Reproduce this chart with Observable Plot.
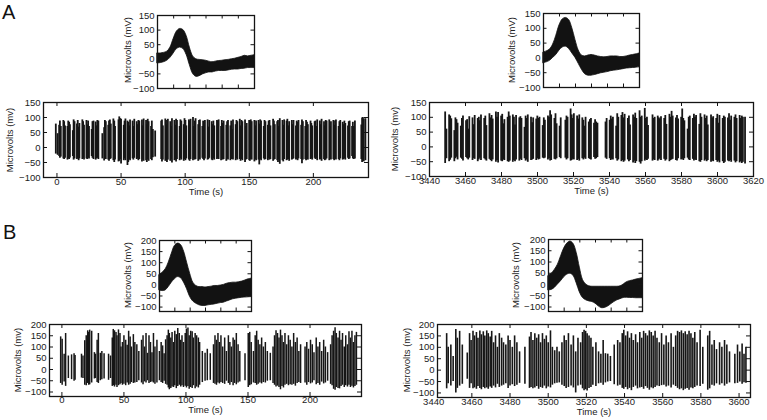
<!DOCTYPE html>
<html>
<head>
<meta charset="utf-8">
<script src="https://cdn.jsdelivr.net/npm/d3@7"></script>
<script src="https://cdn.jsdelivr.net/npm/@observablehq/plot@0.6"></script>
<style>
  html, body { margin: 0; padding: 0; background: #fff; }
  #fig { position: relative; width: 767px; height: 420px; overflow: hidden; background: #fff; font-family: "Liberation Sans", Arial, sans-serif; }
  .letter { position: absolute; font-size: 20px; color: #111; line-height: 1; }
  .ylab { position: absolute; font-size: 9.5px; line-height: 1; color: #222; white-space: nowrap; transform: translate(-50%, -50%) rotate(-90deg); }
  #fig svg { position: absolute; overflow: visible; }
  #fig svg text { font-family: "Liberation Sans", Arial, sans-serif; }
</style>
</head>
<body>
<div id="fig">
  <div class="letter" style="left:2px; top:2px;">A</div>
  <div class="letter" style="left:3px; top:222px;">B</div>
</div>
<script>
// ---------- tick labels ----------
const yTicksA = [-100, -50, 0, 50, 100, 150];
const yTicksB = [-100, -50, 0, 50, 100, 150, 200];
const xTicksEarly = [0, 50, 100, 150, 200];
const xTicksLateA = [3440, 3460, 3480, 3500, 3520, 3540, 3560, 3580, 3600, 3620];
const xTicksLateB = [3440, 3460, 3480, 3500, 3520, 3540, 3560, 3580, 3600];
const waveTicks = [5, 10, 15, 20, 25];

// ---------- waveform envelopes (samples 0..30) ----------
const waveA1High = [20, 20, 22, 26, 40, 70, 95, 104, 100, 80, 40, 10, 0, -2, -3, -5, -8, -10, -8, -6, -5, -3, -2, 0, 2, 5, 8, 12, 10, 12, 14];
const waveA1Low  = [-14, -13, -10, -5, 5, 20, 35, 40, 35, 15, -20, -50, -60, -58, -52, -48, -45, -45, -42, -40, -40, -40, -38, -36, -35, -35, -33, -32, -30, -30, -30];
const waveA2High = [18, 22, 28, 45, 75, 110, 130, 135, 128, 100, 60, 25, 8, 5, 8, 10, 8, 5, 3, 2, 3, 5, 5, 5, 3, 3, 5, 8, 10, 12, 15];
const waveA2Low  = [-18, -15, -10, 0, 10, 25, 35, 38, 30, 15, 0, -20, -40, -55, -60, -60, -58, -55, -52, -50, -48, -45, -43, -42, -40, -38, -36, -35, -34, -33, -32];
const waveB1High = [45, 55, 70, 100, 140, 175, 186, 180, 150, 100, 50, 10, -5, -10, -10, -12, -10, -8, -5, -5, -3, 0, 5, 8, 10, 10, 12, 15, 20, 25, 28];
const waveB1Low  = [-25, -28, -25, -10, 10, 25, 35, 30, 10, -20, -55, -75, -85, -92, -95, -95, -92, -90, -88, -85, -82, -80, -75, -70, -65, -62, -60, -58, -57, -56, -55];
const waveB2High = [38, 48, 65, 88, 125, 160, 182, 191, 180, 140, 75, 20, 0, -8, -10, -10, -10, -10, -10, -10, -10, -10, -10, -8, 0, 10, 15, 18, 22, 25, 28];
const waveB2Low  = [-26, -24, -15, 0, 15, 32, 44, 48, 38, 5, -35, -60, -70, -75, -78, -85, -97, -105, -104, -98, -88, -78, -70, -65, -60, -59, -60, -60, -61, -61, -61];

// ---------- spike trains: [time (s), max (µV), min (µV)] ----------
const spikesA1 = [
[-0.9,78,-22],[0.5,46,-26],
[1.7,74,-30],[2.3,88,-36],[3.0,70,-32],
[5.0,90,-38],[5.6,86,-40],[6.3,72,-36],
[8.2,70,-42],[8.8,88,-38],[9.5,84,-40],[10.1,76,-35],
[12.4,56,-30],[13.0,92,-42],[13.7,86,-38],
[15.6,78,-40],[16.2,90,-36],[16.9,68,-44],[17.5,80,-38],
[19.8,92,-40],[20.4,86,-36],[21.1,74,-42],
[23.0,90,-38],[23.6,75,-40],[24.3,88,-35],[25.0,70,-38],
[27.1,60,-30],[27.7,86,-36],[28.5,88,-40],
[30.2,85,-42],[30.8,72,-38],[31.5,90,-36],[32.3,88,-40],
[35.4,46,-38],
[36.8,66,-45],[37.4,90,-38],[38.1,86,-40],
[40.0,74,-42],[40.6,88,-46],[41.3,92,-40],[42.0,78,-38],
[44.0,95,-44],[44.7,88,-50],[45.3,70,-42],
[48.0,92,-48],[48.6,102,-46],[49.3,96,-40],[50.0,94,-55],
[52.1,74,-44],[52.7,88,-38],[53.4,95,-44],
[55.0,88,-60],[55.6,84,-50],[56.3,72,-40],[57.0,92,-44],
[59.0,88,-38],[59.6,70,-42],[60.3,94,-36],
[62.2,86,-40],[62.8,76,-38],[63.5,90,-44],[64.2,88,-40],
[66.3,92,-48],[66.9,72,-42],[67.6,95,-46],
[69.5,90,-44],[70.1,76,-50],[70.8,94,-42],[71.5,86,-46],
[73.4,70,-40],[74.0,88,-44],[74.8,60,-34],
[76.6,55,-32],
[81.3,88,-40],[81.9,92,-48],[82.6,72,-42],
[84.5,95,-46],[85.1,90,-44],[85.8,76,-50],[86.5,94,-42],
[88.4,86,-46],[89.0,70,-40],[89.7,96,-52],
[91.6,90,-44],[92.2,74,-42],[92.9,94,-48],[93.6,90,-40],
[95.7,70,-44],[96.3,92,-38],[97.0,88,-42],
[98.9,76,-46],[99.5,96,-40],[100.2,90,-44],[100.9,72,-38],
[102.9,92,-42],[103.5,88,-46],[104.2,94,-40],
[106.1,100,-44],[106.7,70,-38],[107.4,88,-42],[108.1,96,-40],
[110.2,76,-46],[110.8,90,-38],[111.5,92,-42],
[113.4,70,-36],[114.0,88,-40],[114.7,74,-44],[115.4,90,-38],
[117.5,92,-42],[118.1,68,-40],[118.8,90,-36],
[120.7,86,-42],[121.3,76,-44],[122.0,88,-38],[122.7,72,-42],
[124.8,90,-40],[125.4,88,-36],[126.1,92,-40],
[128.0,70,-44],[128.6,90,-38],[129.3,80,-42],[130.0,88,-40],
[132.1,74,-46],[132.7,86,-38],[133.4,90,-42],
[135.3,72,-44],[135.9,88,-40],[136.6,60,-40],[137.3,92,-42],
[139.4,76,-44],[140.0,90,-38],[140.7,86,-42],
[142.6,94,-40],[143.2,72,-46],[143.9,90,-40],[144.6,86,-44],
[146.7,92,-50],[147.3,70,-42],[148.0,80,-40],
[149.9,90,-44],[150.5,76,-46],[151.2,92,-40],[151.9,86,-42],
[154.0,90,-48],[154.6,72,-40],[155.3,88,-44],
[157.2,90,-42],[157.8,78,-58],[158.5,92,-40],[159.2,88,-44],
[161.3,70,-38],[161.9,90,-42],[162.6,86,-40],
[164.5,74,-44],[165.1,88,-38],[165.8,90,-42],[166.5,72,-40],
[168.6,94,-46],[169.2,88,-42],[169.9,76,-40],
[171.8,86,-44],[172.4,90,-50],[173.1,70,-42],[173.8,96,-56],
[175.9,90,-44],[176.5,74,-48],[177.2,92,-40],
[179.1,88,-44],[179.7,94,-42],[180.4,72,-40],[181.1,86,-46],
[183.2,90,-42],[183.8,76,-40],[184.5,90,-38],
[186.4,72,-42],[187.0,88,-40],[187.7,84,-44],[188.4,90,-38],
[190.5,74,-40],[191.1,92,-54],[191.8,86,-42],
[193.7,70,-40],[194.3,90,-44],[195.0,84,-38],[195.7,76,-42],
[197.8,88,-40],[198.4,80,-38],[199.1,72,-42],
[201.0,86,-36],[201.6,88,-40],[202.3,70,-38],[203.0,92,-44],
[205.1,88,-42],[205.7,76,-40],[206.4,94,-46],
[208.3,86,-40],[208.9,72,-44],[209.6,90,-42],[210.3,88,-38],
[212.4,92,-44],[213.0,70,-40],[213.7,86,-42],
[215.6,90,-40],[216.2,74,-44],[216.9,88,-38],[217.6,92,-42],
[219.7,70,-40],[220.3,86,-44],[221.0,90,-38],
[222.9,84,-42],[223.5,76,-40],[224.2,88,-38],[224.9,80,-42],
[227.0,72,-36],[227.6,86,-40],[228.3,88,-38],
[230.2,70,-30],[230.8,84,-38],[231.5,70,-40],[232.4,88,-38],
[237.4,75,-40],[238.0,98,-50],[238.6,100,-45],[239.3,95,-48],[240.6,96,-44]
];

const spikesA2 = [
[3448.7,118,-56],[3449.4,60,-40],
[3450.9,108,-50],[3451.5,104,-45],[3452.1,95,-38],
[3453.8,55,-50],[3454.4,98,-40],[3455.0,92,-35],[3455.6,80,-44],
[3457.4,70,-38],[3458.0,96,-42],[3458.6,104,-48],
[3460.3,88,-36],[3460.9,92,-40],[3461.5,60,-44],[3462.1,102,-38],
[3463.9,98,-46],[3464.5,75,-40],[3465.1,106,-42],
[3466.8,96,-50],[3467.4,100,-44],[3468.0,88,-38],[3468.6,108,-46],
[3470.4,96,-40],[3471.0,104,-44],[3471.6,72,-48],
[3473.3,112,-42],[3473.9,98,-46],[3474.5,106,-50],[3475.1,94,-44],
[3476.9,118,-52],[3477.5,100,-46],[3478.1,116,-54],
[3479.8,104,-48],[3480.4,110,-50],[3481.0,78,-44],[3481.6,92,-46],
[3483.4,100,-50],[3484.0,118,-52],[3484.6,104,-48],
[3486.3,108,-52],[3486.9,100,-46],[3487.5,74,-50],[3488.1,106,-44],
[3489.9,98,-48],[3490.5,102,-42],[3491.1,96,-46],
[3492.8,66,-40],[3493.4,104,-48],[3494.0,96,-44],[3494.6,108,-52],
[3496.4,100,-46],[3497.0,82,-44],[3497.6,98,-42],
[3499.3,94,-46],[3499.9,104,-40],[3500.5,96,-44],[3501.1,100,-42],
[3502.9,72,-38],[3503.5,98,-40],[3504.1,90,-38],
[3505.8,104,-44],[3506.4,100,-40],[3507.0,122,-48],[3507.6,108,-46],
[3509.4,96,-42],[3510.0,112,-44],[3510.6,78,-40],
[3512.3,70,-36],[3512.9,98,-40],
[3515.5,90,-38],[3516.1,104,-44],[3516.7,100,-40],
[3518.4,128,-48],[3519.0,108,-46],[3519.6,96,-42],[3520.2,112,-44],
[3522.0,104,-46],[3522.6,94,-42],[3523.2,108,-48],
[3524.9,98,-40],[3525.5,90,-44],[3526.1,70,-38],[3526.7,100,-42],
[3528.5,84,-40],[3529.1,92,-42],[3529.7,96,-44],
[3531.4,80,-36],[3532.0,92,-42],[3532.6,84,-40],[3533.3,80,-36],
[3537.8,84,-38],[3538.4,96,-42],
[3540.1,90,-40],[3540.7,104,-46],[3541.3,94,-42],[3541.9,100,-44],
[3543.7,70,-40],[3544.3,112,-48],[3544.9,100,-44],
[3546.6,106,-50],[3547.2,116,-46],[3547.8,98,-52],[3548.4,110,-48],
[3550.2,96,-44],[3550.8,104,-50],[3551.4,74,-46],
[3553.1,108,-54],[3553.7,100,-48],[3554.3,114,-56],[3554.9,96,-50],
[3556.7,122,-52],[3557.3,100,-58],[3557.9,104,-50],
[3559.6,130,-48],[3560.2,96,-44],[3560.8,100,-46],[3561.4,72,-42],
[3563.9,108,-48],[3564.5,96,-44],[3565.1,100,-46],
[3566.8,104,-48],[3567.4,98,-44],[3568.0,94,-40],[3568.6,102,-46],
[3570.4,96,-42],[3571.0,106,-48],[3571.6,76,-44],
[3573.3,110,-50],[3573.9,100,-46],[3574.5,120,-44],[3575.1,104,-42],
[3576.9,98,-46],[3577.5,106,-48],[3578.1,94,-40],
[3579.8,100,-44],[3580.4,128,-42],[3581.0,96,-46],[3581.6,88,-40],
[3583.4,60,-38],[3584.0,100,-44],[3584.6,104,-46],
[3586.3,96,-42],[3586.9,110,-48],[3587.5,100,-44],[3588.1,106,-46],
[3589.9,76,-50],[3590.5,112,-52],[3591.1,100,-46],
[3592.8,108,-48],[3593.4,96,-44],[3594.0,104,-50],[3594.6,74,-46],
[3596.4,108,-52],[3597.0,98,-48],[3597.6,102,-50],
[3599.3,96,-46],[3599.9,110,-52],[3600.5,80,-48],[3601.1,106,-54],
[3602.9,96,-50],[3603.5,104,-56],[3604.1,100,-52],
[3605.8,98,-48],[3606.4,112,-50],[3607.0,90,-46],[3607.6,104,-52],
[3609.4,100,-48],[3610.0,108,-54],[3610.6,96,-50],
[3612.3,106,-54],[3612.9,96,-50],[3613.5,104,-56],[3614.1,100,-52],[3615.3,100,-58]
];

const spikesB1 = [
[-1.0,145,-62],[0.2,135,-70],[1.8,68,-55],[3.0,160,-75],[5.2,60,-40],[7.8,65,-45],[9.8,70,-52],[10.6,62,-48],[15.8,68,-38],[17.0,60,-40],
[18.4,128,-70],[19.6,150,-72],[20.8,172,-62],[21.6,165,-70],[22.4,175,-68],[24.0,170,-60],[26.2,75,-42],[27.0,68,-40],[28.4,130,-58],[29.4,160,-62],
[31.0,72,-50],[32.2,80,-45],[34.0,70,-42],[37.6,68,-48],[39.2,60,-40],[40.6,140,-75],[41.4,178,-72],[42.4,172,-78],[43.6,165,-70],[44.4,150,-80],
[45.6,176,-72],[46.8,160,-68],[47.6,100,-62],[48.8,120,-70],[50.0,150,-66],[51.4,130,-72],[52.6,108,-60],[53.8,170,-70],[55.0,145,-65],[56.0,100,-58],
[57.6,155,-62],[58.8,120,-60],[60.4,110,-58],[62.0,80,-50],[64.2,130,-60],[65.4,150,-68],[66.6,100,-55],[67.8,160,-60],[69.0,72,-50],[70.2,150,-62],
[71.4,120,-58],[72.6,75,-55],[73.8,160,-60],[75.0,100,-65],[76.6,130,-60],[78.6,80,-50],[80.0,120,-58],[81.2,105,-62],[82.4,70,-52],[83.6,132,-66],
[84.8,150,-70],[85.8,175,-82],[86.6,160,-90],[87.8,140,-84],[88.8,165,-78],[90.0,120,-80],[91.0,170,-72],[92.2,155,-85],[93.4,182,-76],[94.6,160,-70],
[95.8,130,-78],[96.8,150,-72],[98.0,120,-80],[99.4,160,-74],[100.4,180,-82],[101.6,185,-76],[102.6,150,-88],[103.8,170,-80],[105.0,168,-84],[106.0,140,-72],
[107.4,160,-86],[108.6,150,-78],[110.0,140,-82],[111.0,120,-70],[113.2,80,-58],[115.4,72,-52],[117.2,90,-50],[119.6,70,-48],[122.2,110,-62],[123.4,150,-66],
[124.6,130,-70],[125.8,160,-60],[127.0,120,-64],[128.2,150,-58],[129.6,100,-62],[131.2,140,-66],[132.6,80,-52],[134.2,150,-62],[135.4,120,-70],[136.6,100,-58],
[138.0,140,-72],[139.2,130,-62],[140.6,160,-68],[142.0,110,-60],[143.4,80,-55],[147.6,70,-50],[150.2,160,-80],[151.4,165,-72],[152.6,120,-68],[154.4,80,-60],
[155.8,150,-62],[157.0,170,-70],[158.2,130,-66],[159.6,110,-60],[161.0,140,-64],[162.4,100,-58],[164.0,120,-60],[165.6,80,-52],[168.0,72,-50],[170.2,100,-62],
[171.4,150,-70],[172.6,172,-78],[173.8,160,-74],[175.0,140,-80],[176.2,175,-90],[177.4,150,-76],[178.6,120,-82],[179.8,160,-70],[181.2,110,-66],[182.6,150,-72],
[184.0,130,-68],[185.4,100,-70],[186.8,160,-66],[188.2,120,-74],[189.6,140,-62],[191.0,80,-58],[192.4,110,-62],[196.0,100,-60],[197.4,120,-70],[198.8,90,-58],
[200.4,130,-64],[201.8,110,-60],[203.2,75,-50],[205.0,140,-68],[206.4,100,-62],[207.8,120,-70],[209.4,80,-56],[211.0,130,-64],[212.4,100,-60],[214.2,75,-52],
[216.6,110,-66],[217.8,150,-72],[219.0,170,-88],[220.2,186,-92],[221.2,160,-80],[222.6,140,-84],[223.8,170,-86],[225.0,130,-76],[226.2,160,-70],[227.6,100,-80],
[228.8,150,-72],[230.2,110,-78],[231.4,168,-70],[232.6,140,-80],[233.8,170,-74],[235.0,120,-82],[236.2,150,-76],[237.4,165,-70]
];

const spikesB2 = [
[3446.8,160,-82],[3447.6,100,-60],[3449.0,110,-70],[3450.2,60,-50],[3451.6,178,-100],[3452.4,140,-80],[3453.6,170,-70],[3455.0,110,-62],[3457.6,75,-40],[3458.8,160,-80],
[3459.6,130,-60],[3460.6,170,-82],[3461.4,150,-78],[3462.4,165,-84],[3463.2,140,-72],[3464.2,172,-80],[3465.0,155,-86],[3466.0,168,-76],[3466.8,150,-82],[3467.8,172,-78],
[3468.6,160,-84],[3469.6,145,-74],[3470.4,170,-80],[3471.4,120,-70],[3472.4,150,-78],[3473.4,100,-62],[3474.4,160,-76],[3475.6,140,-70],[3476.6,120,-66],[3477.8,110,-60],
[3479.0,150,-80],[3480.0,130,-70],[3481.2,100,-64],[3482.4,150,-72],[3483.6,120,-66],[3485.0,80,-58],[3487.8,100,-62],[3490.2,145,-80],[3491.0,165,-76],[3492.0,130,-82],
[3493.0,160,-78],[3494.0,140,-72],[3495.0,155,-84],[3496.0,120,-76],[3497.0,160,-80],[3498.0,135,-70],[3499.0,150,-82],[3500.0,120,-74],[3501.2,172,-78],[3502.2,100,-66],
[3503.4,85,-60],[3504.6,100,-58],[3505.8,80,-56],[3507.2,120,-66],[3508.4,150,-72],[3509.4,130,-80],[3510.6,160,-76],[3512.0,110,-70],[3513.2,150,-78],[3514.4,80,-100],
[3515.6,140,-70],[3517.0,120,-66],[3518.0,165,-82],[3518.8,175,-90],[3519.6,170,-86],[3520.4,160,-92],[3521.4,150,-80],[3522.4,140,-76],[3523.4,100,-66],[3525.0,120,-72],
[3526.4,80,-60],[3527.6,70,-58],[3528.8,130,-66],[3530.0,72,-56],[3531.2,70,-52],[3532.6,60,-50],[3534.6,110,-64],[3536.4,130,-70],[3537.6,120,-66],[3538.8,160,-80],
[3539.6,175,-84],[3540.6,150,-76],[3541.6,168,-86],[3542.6,140,-80],[3543.6,160,-90],[3544.6,130,-76],[3545.8,155,-70],[3546.8,120,-82],[3548.0,165,-78],[3549.0,140,-76],
[3550.0,170,-84],[3551.0,160,-72],[3552.0,150,-80],[3553.0,172,-88],[3554.0,165,-78],[3555.0,150,-82],[3556.0,170,-76],[3557.0,140,-70],[3558.2,120,-72],[3559.4,160,-68],
[3560.6,110,-66],[3561.8,150,-74],[3563.0,120,-70],[3564.4,160,-78],[3565.6,100,-66],[3566.8,150,-72],[3567.8,170,-80],[3568.8,165,-86],[3569.8,172,-82],[3570.8,160,-90],
[3571.8,168,-84],[3572.8,155,-80],[3573.8,170,-88],[3574.8,160,-78],[3575.8,140,-82],[3576.8,165,-76],[3578.0,120,-70],[3579.6,175,-72],[3581.0,100,-62],[3583.6,150,-88],
[3584.6,170,-82],[3585.8,110,-66],[3587.0,130,-70],[3588.2,90,-60],[3589.8,120,-66],[3591.0,100,-60],[3592.4,130,-70],[3593.6,110,-62],[3595.0,80,-56],[3597.8,70,-60],
[3599.2,110,-58],[3600.4,80,-52],[3601.6,115,-62],[3602.6,70,-55],[3603.6,100,-58]
];

// ---------- rendering ----------
const fig = document.getElementById("fig");
const FONT = "'Liberation Sans', Arial, Helvetica, sans-serif";
const INK = "#141414";
const fmt = d => d < 0 ? "\u2212" + Math.abs(d) : String(d);

function yLabel(text, cx, cy) {
  const div = document.createElement("div");
  div.className = "ylab";
  div.textContent = text;
  div.style.left = cx + "px";
  div.style.top = cy + "px";
  fig.appendChild(div);
}

function panel(o) {
  const mL = 55, mR = 12, mT = 12, mB = 30;
  const [x0, x1] = o.xDomain;
  const xt = o.xTicks.filter(t => t >= x0 && t <= x1);
  const tk = o.tick;
  const marks = [...o.marks,
    Plot.ruleY(o.yTicks, {y: d => d, insetRight: o.fw - tk, stroke: INK, strokeWidth: 1}),
    Plot.ruleY(o.yTicks, {y: d => d, insetLeft: o.fw - tk, stroke: INK, strokeWidth: 1}),
    Plot.ruleX(xt, {x: d => d, insetTop: o.fh - tk, stroke: INK, strokeWidth: 1}),
    Plot.ruleX(xt, {x: d => d, insetBottom: o.fh - tk, stroke: INK, strokeWidth: 1}),
    Plot.text(o.yTicks, {y: d => d, frameAnchor: "left", dx: -3, textAnchor: "end", text: fmt, fill: "#222"}),
    Plot.frame({stroke: INK, strokeWidth: 1.3})
  ];
  if (o.xlabel) {
    marks.push(Plot.text(o.xTicks, {x: d => d, frameAnchor: "bottom", dy: o.tickDy, text: fmt, fill: "#222"}));
    marks.push(Plot.text([o.xlabel], {frameAnchor: "bottom", dy: o.labelDy, text: d => d, fill: "#222"}));
  }
  const svg = Plot.plot({
    width: o.fw + mL + mR,
    height: o.fh + mT + mB,
    marginLeft: mL, marginRight: mR, marginTop: mT, marginBottom: mB,
    x: {domain: o.xDomain, axis: null},
    y: {domain: o.yDomain, axis: null},
    style: {fontFamily: FONT, fontSize: "9.5px", background: "transparent", color: "#222", overflow: "visible"},
    marks
  });
  svg.style.left = (o.left - mL) + "px";
  svg.style.top = (o.top - mT) + "px";
  fig.appendChild(svg);
  yLabel(o.ylabel, o.labelX, o.labelY);
}

function spikeMarks(spikes, w) {
  return [Plot.ruleX(spikes, {x: d => d[0], y1: d => d[2], y2: d => d[1], stroke: "#161616", strokeWidth: w})];
}
function waveMarks(high, low) {
  const rows = high.map((h, i) => ({i, h, l: low[i]}));
  return [Plot.areaY(rows, {x: "i", y1: "l", y2: "h", fill: "#121212", stroke: "#121212", strokeWidth: 0.8, curve: "catmull-rom"})];
}

// A – inset waveforms
panel({left: 157, top: 15, fw: 97, fh: 73, xDomain: [0, 30], yDomain: [-100, 150], xTicks: waveTicks, yTicks: yTicksA,
  tick: 3.5, ylabel: "Microvolts (mV)", labelX: 128, labelY: 50, marks: waveMarks(waveA1High, waveA1Low)});
panel({left: 543, top: 13, fw: 96, fh: 74, xDomain: [0, 30], yDomain: [-100, 150], xTicks: waveTicks, yTicks: yTicksA,
  tick: 3.5, ylabel: "Microvolts (mV)", labelX: 512, labelY: 50, marks: waveMarks(waveA2High, waveA2Low)});
// A – spike trains
panel({left: 43, top: 102, fw: 325, fh: 75, xDomain: [-10.5, 243], yDomain: [-100, 150], xTicks: xTicksEarly, yTicks: yTicksA,
  tick: 4, ylabel: "Microvolts (mv)", labelX: 10, labelY: 139.5, xlabel: "Time (s)", tickDy: 7.5, labelDy: 17, marks: spikeMarks(spikesA1, 1.8)});
panel({left: 429, top: 102, fw: 324, fh: 74, xDomain: [3440, 3620], yDomain: [-100, 150], xTicks: xTicksLateA, yTicks: yTicksA,
  tick: 4, ylabel: "Microvolts (mv)", labelX: 395, labelY: 139, xlabel: "Time (s)", tickDy: 7, labelDy: 17, marks: spikeMarks(spikesA2, 1.8)});
// B – inset waveforms
panel({left: 159, top: 240, fw: 92, fh: 71, xDomain: [0, 30], yDomain: [-120, 200], xTicks: waveTicks, yTicks: yTicksB,
  tick: 3.5, ylabel: "Microvolts (mV)", labelX: 128, labelY: 275, marks: waveMarks(waveB1High, waveB1Low)});
panel({left: 548, top: 239, fw: 94, fh: 72, xDomain: [0, 30], yDomain: [-120, 200], xTicks: waveTicks, yTicks: yTicksB,
  tick: 3.5, ylabel: "Microvolts (mV)", labelX: 516, labelY: 275, marks: waveMarks(waveB2High, waveB2Low)});
// B – spike trains
panel({left: 49, top: 324, fw: 312, fh: 72, xDomain: [-10, 241.5], yDomain: [-120, 200], xTicks: xTicksEarly, yTicks: yTicksB,
  tick: 4, ylabel: "Microvolts (mv)", labelX: 18, labelY: 360, xlabel: "Time (s)", tickDy: 6, labelDy: 16.5, marks: spikeMarks(spikesB1, 1.5)});
panel({left: 437, top: 324, fw: 313, fh: 73, xDomain: [3442, 3606], yDomain: [-120, 200], xTicks: xTicksLateB, yTicks: yTicksB,
  tick: 4, ylabel: "Microvolts (mv)", labelX: 407, labelY: 360, xlabel: "Time (s)", tickDy: 7.5, labelDy: 17.5, marks: spikeMarks(spikesB2, 1.6)});
</script>
</body>
</html>
